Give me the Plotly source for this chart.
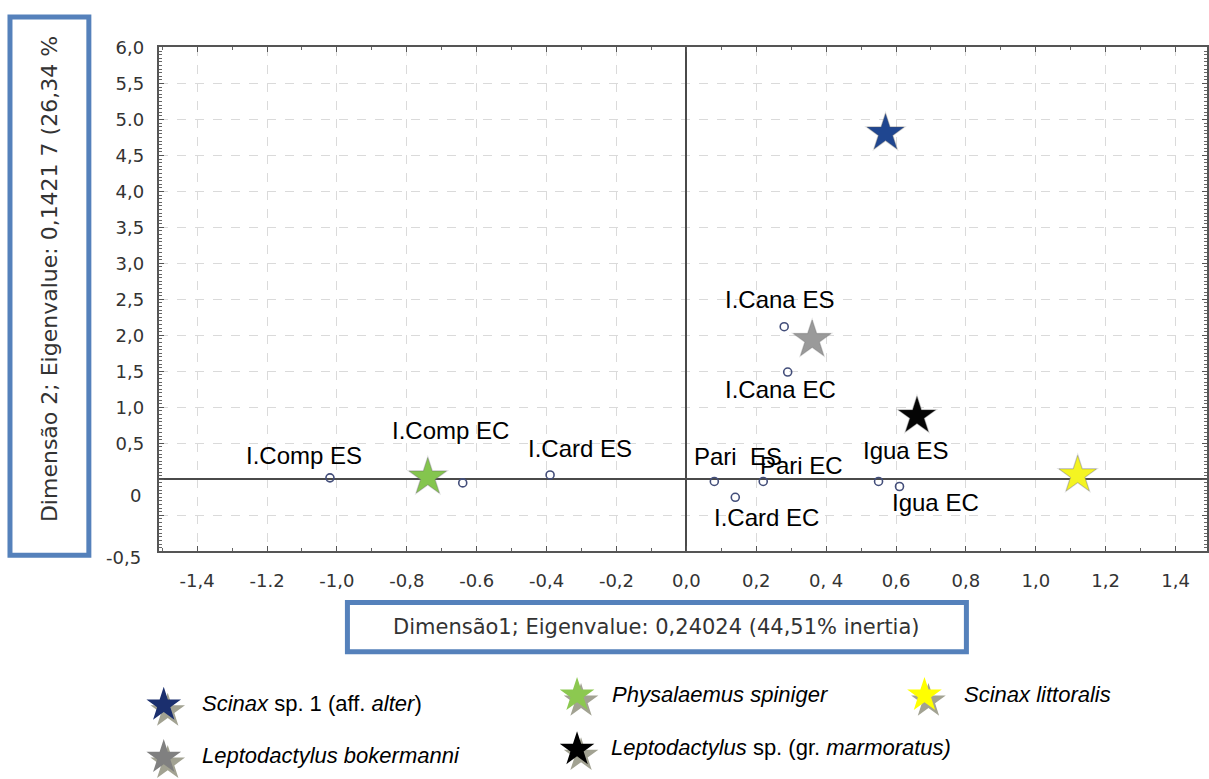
import plotly.graph_objects as go

# ---------------- data ----------------
site_labels = ["I.Comp ES", "I.Comp EC", "I.Card ES", "Pari  ES", "Pari EC",
               "I.Card EC", "I.Cana ES", "I.Cana EC", "Igua ES", "Igua EC"]
site_x = [-1.02, -0.64, -0.39, 0.08, 0.22, 0.14, 0.28, 0.29, 0.55, 0.61]
site_y = [0.02, -0.05, 0.06, -0.03, -0.03, -0.25, 2.12, 1.49, -0.03, -0.10]

species_names = ["<i>Scinax</i> sp. 1 (aff. <i>alter</i>)",
                 "<i>Physalaemus spiniger</i>",
                 "<i>Scinax littoralis</i>",
                 "<i>Leptodactylus bokermanni</i>",
                 "<i>Leptodactylus</i> sp. (gr. <i>marmoratus)</i>"]
species_x = [0.57, -0.74, 1.12, 0.36, 0.66]
species_y = [4.81, 0.03, 0.06, 1.94, 0.88]

x_tick_vals = [-1.4, -1.2, -1.0, -0.8, -0.6, -0.4, -0.2, 0.0, 0.2, 0.4, 0.6, 0.8, 1.0, 1.2, 1.4]
x_tick_text = ["-1,4", "-1.2", "-1,0", "-0,8", "-0.6", "-0,4", "-0,2", "0,0",
               "0,2", "0, 4", "0,6", "0,8", "1,0", "1,2", "1,4"]
y_tick_vals = [6.0, 5.5, 5.0, 4.5, 4.0, 3.5, 3.0, 2.5, 2.0, 1.5, 1.0, 0.5, 0.0, -0.5]
y_tick_text = ["6,0", "5,5", "5.0", "4,5", "4,0", "3,5", "3,0", "2,5", "2,0",
               "1,5", "1,0", "0,5", "", ""]
# pasted labels that sit off the grid in the original
y_extra_text = ["0", "-0,5"]
y_extra_pos = [-0.22, -1.08]

x_title = "Dimensão1; Eigenvalue: 0,24024 (44,51% inertia)"
y_title = "Dimensão 2; Eigenvalue: 0,1421 7 (26,34 %"

# ---------------- styling / layout ----------------
W, H = 1209, 779
PLOT_L, PLOT_R, PLOT_T, PLOT_B = 159, 1209, 37, 548
X_RANGE = [-1.51, 1.49]
Y_RANGE = [-1.0, 6.0]
Y_DOMAIN = [1 - PLOT_B / H, 1 - PLOT_T / H]
species_colors = ["#1f4690", "#84c54e", "#f4f422", "#9a9a9a", "#050505"]
legend_colors = ["#1b2f6e", "#8cc850", "#ffff00", "#808080", "#000000"]
# label offsets in pixels (dx right, dy up) for each site label
label_dx = [-26, -12, 30, 24, 38, 31, -5, -7, 27, 36]
label_dy = [22, 52, 26, 25, 16, -20, 27, -17, 31, -16]
# legend slot pixel positions: star centre and text start
legend_star_px = [(164, 704), (578, 694), (926, 694), (164, 757), (578, 749)]
legend_text_px = [(200, 702), (611, 693), (964, 693), (200, 755), (610, 747)]

FONT_TICK = "DejaVu Sans"
FONT_TXT = "Liberation Sans, Arial, sans-serif"
BOX_COLOR = "#5581bb"


def y_to_paper(v):
    frac = (v - Y_RANGE[0]) / (Y_RANGE[1] - Y_RANGE[0])
    return Y_DOMAIN[0] + frac * (Y_DOMAIN[1] - Y_DOMAIN[0])


fig = go.Figure()

# site points
fig.add_trace(go.Scatter(
    x=site_x, y=site_y, mode="markers",
    marker=dict(symbol="circle-open", size=8, color="#434e7a", line=dict(width=1.6)),
    showlegend=False, hoverinfo="skip"))

# species stars (shadow + star)
fig.add_trace(go.Scatter(
    x=species_x, y=species_y, mode="markers",
    marker=dict(symbol="star", size=32, color="rgba(150,150,150,0.3)", line=dict(width=0)),
    showlegend=False, hoverinfo="skip"))
fig.add_trace(go.Scatter(
    x=species_x, y=species_y, mode="markers",
    marker=dict(symbol="star", size=28, color=species_colors,
                line=dict(width=0.6, color="rgba(90,90,90,0.5)")),
    showlegend=False, hoverinfo="skip"))

# legend stars on a pixel-space overlay axis
lx = [p[0] for p in legend_star_px]
ly = [p[1] for p in legend_star_px]
fig.add_trace(go.Scatter(
    x=[v + 4 for v in lx], y=[v + 6 for v in ly], xaxis="x2", yaxis="y2", mode="markers",
    marker=dict(symbol="star", size=26, color="#a2a292", line=dict(width=0)),
    showlegend=False, hoverinfo="skip"))
fig.add_trace(go.Scatter(
    x=lx, y=ly, xaxis="x2", yaxis="y2", mode="markers",
    marker=dict(symbol="star", size=26, color=legend_colors, line=dict(width=0)),
    showlegend=False, hoverinfo="skip"))

annotations = []
for lab, x, y, dx, dy in zip(site_labels, site_x, site_y, label_dx, label_dy):
    annotations.append(dict(x=x, y=y, xref="x", yref="y", text=lab.replace("  ", "&nbsp; "),
                            showarrow=False, xshift=dx, yshift=dy,
                            xanchor="center", yanchor="middle",
                            font=dict(family=FONT_TXT, size=24, color="#000")))

for t, yv in zip(y_extra_text, y_extra_pos):
    annotations.append(dict(x=(PLOT_L - 16) / W, y=y_to_paper(yv), xref="paper", yref="paper",
                            text=t, showarrow=False, xanchor="right", yanchor="middle",
                            font=dict(family=FONT_TICK, size=18, color="#333")))

for name, (tx, ty) in zip(species_names, legend_text_px):
    annotations.append(dict(x=tx / W, y=1 - ty / H, xref="paper", yref="paper", text=name,
                            showarrow=False, xanchor="left", yanchor="middle",
                            font=dict(family=FONT_TXT, size=22, color="#000")))

# axis titles inside boxes
annotations.append(dict(x=658 / W, y=1 - 625 / H, xref="paper", yref="paper", text=x_title,
                        showarrow=False, xanchor="center", yanchor="middle",
                        font=dict(family=FONT_TICK, size=21, color="#333")))
annotations.append(dict(x=49 / W, y=1 - 272 / H, xref="paper", yref="paper", text=y_title,
                        showarrow=False, textangle=-90, xanchor="center", yanchor="middle",
                        font=dict(family=FONT_TICK, size=22, color="#333")))

shapes = [
    dict(type="rect", xref="paper", yref="paper", x0=348 / W, x1=968 / W,
         y0=1 - 650 / H, y1=1 - 600 / H, line=dict(color=BOX_COLOR, width=5), layer="below"),
    dict(type="rect", xref="paper", yref="paper", x0=10 / W, x1=89 / W,
         y0=1 - 552 / H, y1=1 - 6 / H, line=dict(color=BOX_COLOR, width=5), layer="below"),
]

fig.update_layout(
    width=W, height=H, autosize=False,
    margin=dict(l=0, r=0, t=0, b=0, pad=0),
    paper_bgcolor="white", plot_bgcolor="rgba(0,0,0,0)",
    showlegend=False,
    annotations=annotations, shapes=shapes,
    xaxis=dict(
        domain=[PLOT_L / W, PLOT_R / W], range=X_RANGE,
        tickmode="array", tickvals=x_tick_vals, ticktext=x_tick_text,
        ticks="inside", ticklen=5, tickcolor="#555", ticklabelstandoff=12,
        tickfont=dict(family=FONT_TICK, size=18, color="#333"),
        showgrid=True, gridcolor="#dadada", griddash="dash", gridwidth=1,
        zeroline=True, zerolinecolor="#4a4a4a", zerolinewidth=2,
        showline=True, linecolor="#555", linewidth=2, mirror="ticks",
        minor=dict(dtick=0.1, tick0=0, ticks="inside", ticklen=3, tickcolor="#666", showgrid=False),
        anchor="y", fixedrange=True),
    yaxis=dict(
        domain=Y_DOMAIN, range=Y_RANGE,
        tickmode="array", tickvals=y_tick_vals, ticktext=y_tick_text,
        ticks="inside", ticklen=5, tickcolor="#555", ticklabelstandoff=9,
        tickfont=dict(family=FONT_TICK, size=18, color="#333"),
        showgrid=True, gridcolor="#dadada", griddash="dash", gridwidth=1,
        zeroline=True, zerolinecolor="#4a4a4a", zerolinewidth=2,
        showline=True, linecolor="#555", linewidth=2, mirror="ticks",
        minor=dict(dtick=0.05, tick0=0, ticks="inside", ticklen=3, tickcolor="#666", showgrid=False),
        anchor="x", fixedrange=True),
    xaxis2=dict(domain=[0, 1], range=[0, W], visible=False, anchor="y2", fixedrange=True),
    yaxis2=dict(domain=[0, 1], range=[H, 0], visible=False, anchor="x2", fixedrange=True),
)

fig.write_html("out.html")
